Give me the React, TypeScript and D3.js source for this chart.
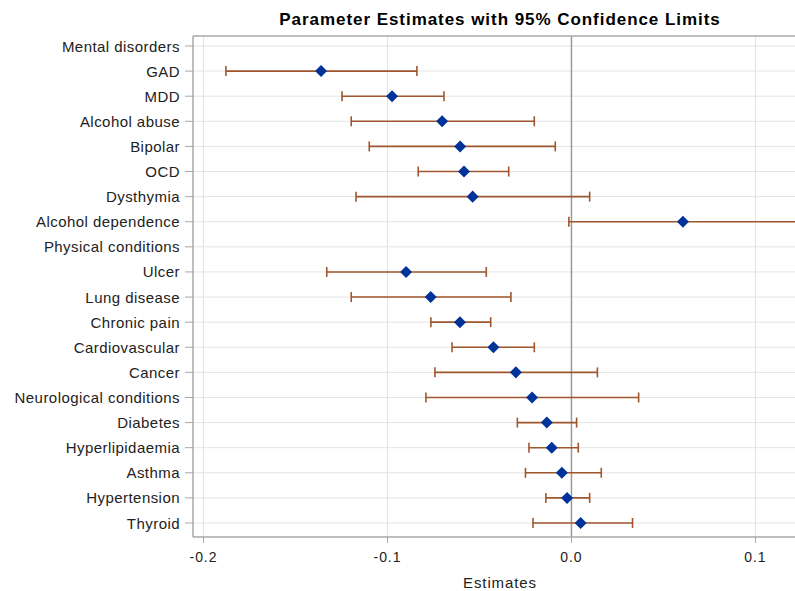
import React from "react";
import * as d3 from "d3";

const categories = [
  "Mental disorders", "GAD", "MDD", "Alcohol abuse", "Bipolar", "OCD", "Dysthymia",
  "Alcohol dependence", "Physical conditions", "Ulcer", "Lung disease", "Chronic pain",
  "Cardiovascular", "Cancer", "Neurological conditions", "Diabetes", "Hyperlipidaemia",
  "Asthma", "Hypertension", "Thyroid",
];
// null = header row (no estimate)
const estimates: (number | null)[] = [
  null, -0.1361, -0.0975, -0.0703, -0.0605, -0.0584, -0.0537, 0.0606,
  null, -0.0899, -0.0765, -0.0606, -0.0424, -0.0302, -0.0214, -0.0134, -0.0107,
  -0.0052, -0.0024, 0.0050,
];
const lowerCL: (number | null)[] = [
  null, -0.1878, -0.1247, -0.1197, -0.1099, -0.0833, -0.1171, -0.0014,
  null, -0.1330, -0.1197, -0.0764, -0.0649, -0.0742, -0.0791, -0.0294, -0.0231,
  -0.0250, -0.0139, -0.0209,
];
const upperCL: (number | null)[] = [
  null, -0.0840, -0.0693, -0.0202, -0.0088, -0.0341, 0.0099, 0.125,
  null, -0.0463, -0.0329, -0.0439, -0.0202, 0.0141, 0.0365, 0.0028, 0.0037,
  0.0162, 0.0099, 0.0332,
];
const xTicks = [-0.2, -0.1, 0.0, 0.1];
const title = "Parameter Estimates with 95% Confidence Limits";
const xLabel = "Estimates";

const W = 795;
const H = 591;
const left = 193;
const right = 795;
const top = 36;
const bottom = 537;

export default function App() {
  const x = d3.scaleLinear().domain([-0.2057, 0.1215]).range([left, right]);
  const y = d3.scalePoint<string>().domain(categories).range([46, 523]);
  const font = "'Liberation Sans', Arial, sans-serif";
  const diamond = d3.symbol().type(d3.symbolDiamond2).size(92)();
  const cap = 5;
  const barColor = "#a0562c";
  const ptColor = "#003399";

  return (
    <svg width={W} height={H} style={{ position: "absolute", left: 0, top: 0 }} fontFamily={font}>
      <defs>
        <clipPath id="plotclip">
          <rect x={left} y={top} width={right - left} height={bottom - top} />
        </clipPath>
      </defs>
      <rect x={0} y={0} width={W} height={H} fill="#fff" />
      <text x={500} y={25} textAnchor="middle" fontSize={17} fontWeight="bold" letterSpacing={0.95} fill="#000">
        {title}
      </text>
      {/* horizontal grid */}
      {categories.map((c) => (
        <line key={"hg" + c} x1={left} x2={right} y1={y(c)} y2={y(c)} stroke="#e4e4e4" strokeWidth={1} />
      ))}
      {/* vertical grid */}
      {xTicks.filter((t) => t !== 0).map((t) => (
        <line key={"vg" + t} x1={x(t)} x2={x(t)} y1={top} y2={bottom} stroke="#e4e4e4" strokeWidth={1} />
      ))}
      {/* zero reference line */}
      <line x1={x(0)} x2={x(0)} y1={top} y2={bottom} stroke="#9a9a9a" strokeWidth={1.5} />
      {/* frame */}
      <line x1={left} x2={right} y1={top} y2={top} stroke="#a8a8a8" strokeWidth={1.5} />
      <line x1={left} x2={left} y1={top} y2={bottom} stroke="#a8a8a8" strokeWidth={1.5} />
      <line x1={left} x2={right} y1={bottom} y2={bottom} stroke="#a8a8a8" strokeWidth={1.5} />
      {/* y ticks and labels */}
      {categories.map((c) => (
        <g key={"yt" + c}>
          <line x1={left - 8} x2={left} y1={y(c)} y2={y(c)} stroke="#a8a8a8" strokeWidth={1} />
          <text x={180} y={(y(c) as number) + 5.5} textAnchor="end" fontSize={15} letterSpacing={0.45} fill="#222">
            {c}
          </text>
        </g>
      ))}
      {/* x ticks and labels */}
      {xTicks.map((t) => (
        <g key={"xt" + t}>
          <line x1={x(t)} x2={x(t)} y1={bottom} y2={bottom + 6} stroke="#a8a8a8" strokeWidth={1} />
          <text x={x(t)} y={562} textAnchor="middle" fontSize={14} letterSpacing={0.9} fill="#222">
            {d3.format(".1f")(t).replace("−", "-")}
          </text>
        </g>
      ))}
      <text x={500} y={588} textAnchor="middle" fontSize={15} letterSpacing={0.9} fill="#222">
        {xLabel}
      </text>
      {/* error bars and points */}
      <g clipPath="url(#plotclip)">
        {categories.map((c, i) => {
          const est = estimates[i];
          const lo = lowerCL[i];
          const hi = upperCL[i];
          if (est === null || lo === null || hi === null) return null;
          const yy = y(c) as number;
          return (
            <g key={"m" + c}>
              <line x1={x(lo)} x2={x(hi)} y1={yy} y2={yy} stroke={barColor} strokeWidth={1.6} />
              <line x1={x(lo)} x2={x(lo)} y1={yy - cap} y2={yy + cap} stroke={barColor} strokeWidth={1.6} />
              <line x1={x(hi)} x2={x(hi)} y1={yy - cap} y2={yy + cap} stroke={barColor} strokeWidth={1.6} />
              <path d={diamond as string} transform={`translate(${x(est)},${yy})`} fill={ptColor} />
            </g>
          );
        })}
      </g>
    </svg>
  );
}
